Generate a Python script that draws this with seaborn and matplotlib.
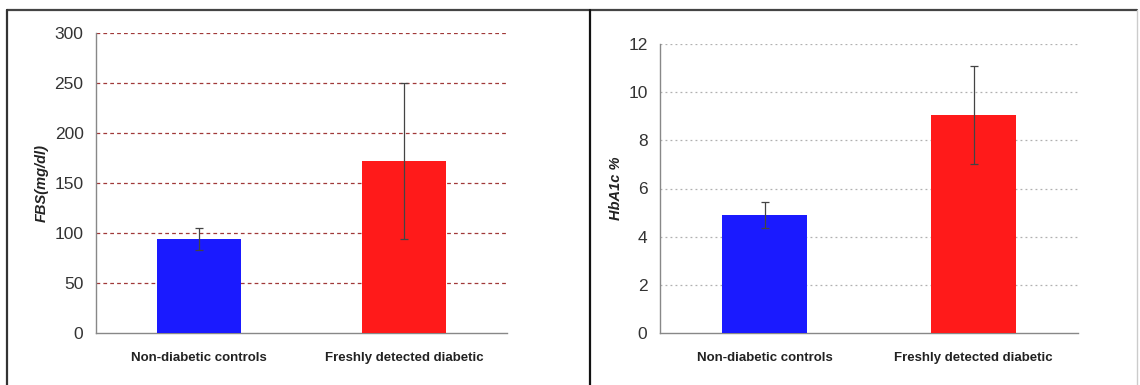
import numpy as np
import pandas as pd
import seaborn as sns
import matplotlib.pyplot as plt
from matplotlib.lines import Line2D

groups = ["Non-diabetic controls", "Freshly detected diabetic"]
bar_colors = ["#1a1aff", "#ff1a1a"]

fbs_mean = [94, 172]
fbs_sd = [11, 78]
hba1c_mean = [4.9, 9.05]
hba1c_sd = [0.55, 2.05]

sns.set_style("white")
plt.rcParams["font.family"] = ["Liberation Sans", "DejaVu Sans"]

fig = plt.figure(figsize=(11.4, 3.85), dpi=100)
W, H = 1140, 385


def px_axes(x0, x1, y0, y1):
    return fig.add_axes([x0 / W, (H - y1) / H, (x1 - x0) / W, (y1 - y0) / H])


def draw_panel(ax, means, sds, ylabel, ymax, step, grid_color, grid_style):
    df = pd.DataFrame({"group": groups, "value": means})
    sns.barplot(data=df, x="group", y="value", hue="group", palette=bar_colors,
                saturation=1, width=0.41, errorbar=None, legend=False, ax=ax,
                zorder=3, edgecolor="none")
    ax.errorbar(range(len(means)), means, yerr=sds, fmt="none", ecolor="#444444",
                elinewidth=0.9, capsize=3, capthick=0.9, zorder=4)
    ax.set_xlim(-0.5, 1.5)
    ax.set_ylim(0, ymax)
    ax.set_yticks(np.arange(0, ymax + step / 2, step))
    for yv in np.arange(step, ymax + step / 2, step):
        ax.axhline(yv, color=grid_color, linestyle=grid_style, linewidth=0.9, zorder=1)
    ax.set_xticks([-0.5, 0.5, 1.5], minor=True)
    ax.tick_params(axis="x", which="minor", length=4, color="#888888", direction="out")
    ax.tick_params(axis="x", which="major", length=0, pad=14)
    ax.tick_params(axis="y", length=4, color="#888888", direction="out", pad=5,
                   labelsize=12.5, labelcolor="#333333")
    for lab in ax.get_xticklabels():
        lab.set_fontweight("bold")
        lab.set_fontsize(9.5)
        lab.set_color("#222222")
    ax.set_xlabel("")
    ax.set_ylabel(ylabel, fontsize=10.5, fontstyle="italic", fontweight="bold",
                  color="#222222", labelpad=4)
    for side in ["top", "right"]:
        ax.spines[side].set_visible(False)
    for side in ["left", "bottom"]:
        ax.spines[side].set_color("#888888")
        ax.spines[side].set_linewidth(1.0)


ax1 = px_axes(96, 507, 33, 333)
draw_panel(ax1, fbs_mean, fbs_sd, "FBS(mg/dl)", 300, 50, "#a03838", (0, (3, 2.5)))

ax2 = px_axes(660, 1078, 44, 333)
draw_panel(ax2, hba1c_mean, hba1c_sd, "HbA1c %", 12, 2, "#b0b0b0", (0, (1.5, 2.5)))

# panel borders
def px_line(xs, ys, color, lw):
    fig.add_artist(Line2D([x / W for x in xs], [(H - y) / H for y in ys],
                          color=color, linewidth=lw, transform=fig.transFigure))

px_line([7, 1137], [10, 10], "#444444", 1.6)
px_line([7, 7], [10, 385], "#333333", 1.6)
px_line([590, 590], [10, 385], "#111111", 1.6)
px_line([1137, 1137], [10, 385], "#cccccc", 1.0)

fig.savefig("out.png", dpi=100)
